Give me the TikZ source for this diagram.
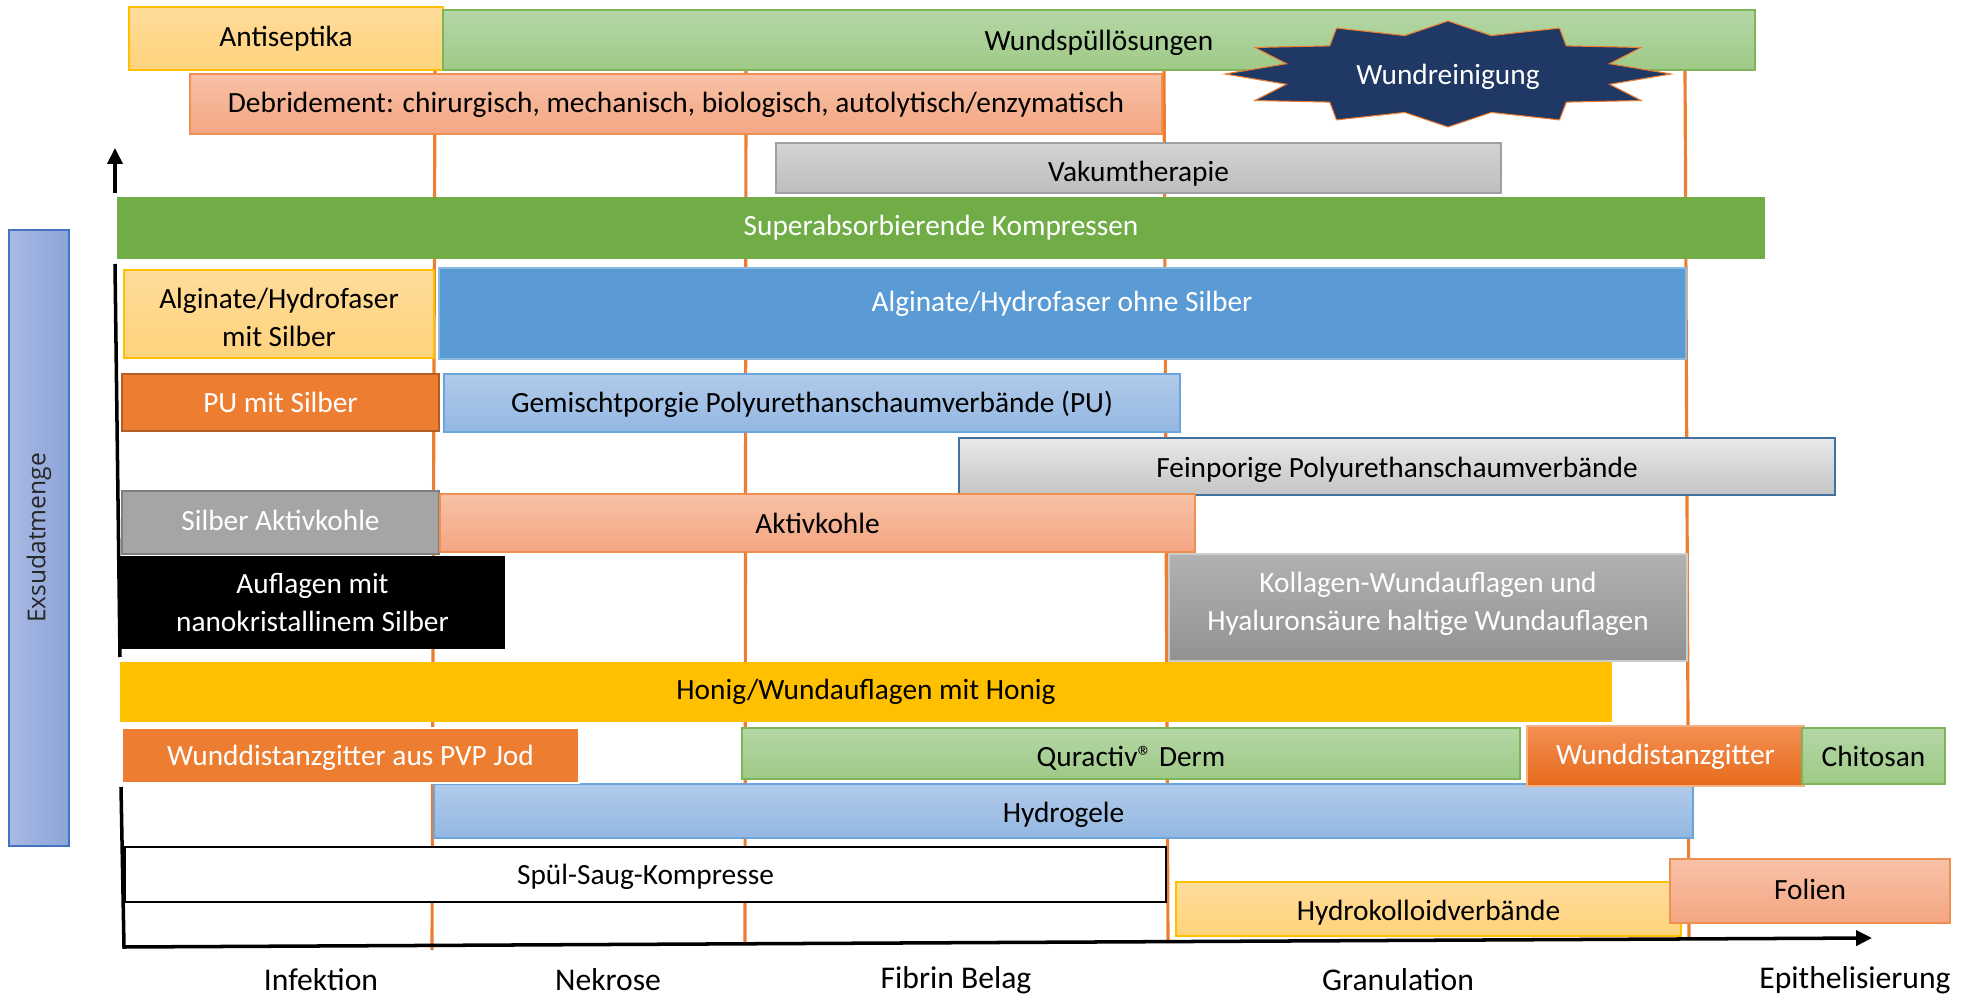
\documentclass[tikz,border=0pt]{standalone}
\usepackage{fontspec}
\setmainfont{Carlito}
\newfontfamily\seitenfont{Open Sans}
\usetikzlibrary{arrows.meta}

\definecolor{goldgelb}{HTML}{FFC000}
\definecolor{orangerot}{HTML}{ED7D31}
\definecolor{gruen}{HTML}{70AD47}
\definecolor{blau}{HTML}{5B9BD5}
\definecolor{nachtblau}{HTML}{203864}
\definecolor{orangeoben}{HTML}{FFDC9A}
\definecolor{orangeunten}{HTML}{FFD37C}
\definecolor{gruenoben}{HTML}{B5D6A6}
\definecolor{gruenunten}{HTML}{9ECA86}
\definecolor{lachsoben}{HTML}{F8C1A6}
\definecolor{lachsunten}{HTML}{F4A683}
\definecolor{grauoben}{HTML}{D4D4D4}
\definecolor{grauunten}{HTML}{BDBDBD}
\definecolor{blauoben}{HTML}{B1CBEA}
\definecolor{blauunten}{HTML}{93B7E2}
\definecolor{feinrand}{HTML}{41719C}
\definecolor{feinoben}{HTML}{E9E9E9}
\definecolor{feinunten}{HTML}{C4C4C4}
\definecolor{silber}{HTML}{A5A5A5}
\definecolor{silberrand}{HTML}{7F7F7F}
\definecolor{kollagenoben}{HTML}{B1B1B1}
\definecolor{kollagenunten}{HTML}{929292}
\definecolor{gitteroben}{HTML}{F38F52}
\definecolor{gitterunten}{HTML}{E76B1D}
\definecolor{exsudlinks}{HTML}{A9B9E3}
\definecolor{exsudrechts}{HTML}{8CA4D7}
\definecolor{exsudrand}{HTML}{4472C4}

\begin{document}
\begin{tikzpicture}[x=0.02cm, y=-0.02cm, font=\fontsize{16.7}{22}\selectfont,
    balken/.style={inner sep=0pt, line width=0.8pt, align=center},
    hellorange/.style={balken, draw=goldgelb, top color=orangeoben, bottom color=orangeunten},
    hellgruen/.style={balken, draw=gruen!90, top color=gruenoben, bottom color=gruenunten},
    lachs/.style={balken, draw=orangerot!85, top color=lachsoben, bottom color=lachsunten},
    grau/.style={balken, draw=gray!75, top color=grauoben, bottom color=grauunten},
    hellblau/.style={balken, draw=blau!90, top color=blauoben, bottom color=blauunten},
    vollgruen/.style={balken, fill=gruen, text=white},
    vollblau/.style={balken, fill=blau, draw=blau!70, text=white},
    puorange/.style={balken, fill=orangerot, draw=orangerot!75!black, line width=1.2pt, text=white},
    feinporig/.style={balken, draw=feinrand, line width=1.2pt, top color=feinoben, bottom color=feinunten},
    silbergrau/.style={balken, fill=silber, draw=silberrand, line width=1.2pt, text=white},
    schwarzbox/.style={balken, fill=black, text=white},
    kollagen/.style={balken, draw=gray!40, top color=kollagenoben, bottom color=kollagenunten, text=white},
    honig/.style={balken, fill=goldgelb},
    pvp/.style={balken, fill=orangerot, draw=white, text=white},
    gitter/.style={balken, draw=orangerot!60, top color=gitteroben, bottom color=gitterunten, text=white},
    spuelsaug/.style={balken, fill=white, draw=black, line width=1.6pt},
    phase/.style={orangerot, line width=1.8pt},
    achse/.style={black, line width=2pt},
    spitze/.style={-{Triangle[length=9pt, width=8.5pt]}},
    stern/.style={fill=nachtblau, draw=orangerot, line width=0.6pt},
    phasenname/.style={font=\fontsize{18}{22}\selectfont}]

\useasboundingbox (0,0) rectangle (1975,996);

% Phasengrenzen
\foreach \xo/\xu/\yu in {435/432/950, 746/745/945, 1164/1168/943, 1685/1689/938}
  \draw[phase] (\xo,70) -- (\xu,\yu);

% Achsen
\coordinate (ypfeil) at (115,148);
\coordinate (ystart) at (115,193);
\coordinate (yoben) at (115,264);
\coordinate (yunten) at (120,657);
\coordinate (ymitte) at (121,787);
\coordinate (ursprung) at (124,947);
\coordinate (xpfeil) at (1872,938);
\draw[achse, spitze] (ystart) -- (ypfeil);
\draw[achse] (yoben) -- (yunten);
\draw[achse, spitze] (ymitte) -- (ursprung) -- (xpfeil);

\path[balken, left color=exsudlinks, right color=exsudrechts, draw=exsudrand] (9,230) rectangle (69,846)
  node[midway, rotate=90, font=\seitenfont\fontsize{14}{16}\selectfont, text=black!85] (exsudat) {Exsudatmenge};

\path[hellorange] (129,7) rectangle (443,70) node[midway] (antiseptika) {Antiseptika};
\path[hellgruen] (443,10) rectangle (1755,70) node[midway, yshift=-1.4pt] (spuelloesung) {Wundspüllösungen};
\path[lachs] (190,74) rectangle (1162,134) node[midway, yshift=-0.7pt] (debridement) {Debridement: chirurgisch, mechanisch, biologisch, autolytisch/enzymatisch};

\draw[stern, shift={(1448,74)}] (0:223 and 53)
  \foreach \i [evaluate=\i as \fak using {mod(\i,2)==0 ? 1 : 0.75}] in {1,...,23} { -- ({\i*15}:{223*\fak} and {53*\fak}) } -- cycle;
\node[text=white] (wundreinigung) at (1448,77) {Wundreinigung};

\path[grau] (776,143) rectangle (1501,193) node[midway, yshift=-3.2pt] (vakuum) {Vakumtherapie};
\path[vollgruen] (117,197) rectangle (1765,259) node[midway] (superabs) {Superabsorbierende Kompressen};
\path[hellorange] (124,270) rectangle (434,358) node[midway, yshift=-2pt] (algmit) {Alginate/Hydrofaser\\mit Silber};
\path[vollblau] (439,268) rectangle (1686,359) node (algohne) at (1062,304) {Alginate/Hydrofaser ohne Silber};
\path[puorange] (122,374) rectangle (439,431) node[midway] (pumit) {PU mit Silber};
\path[hellblau] (444,374) rectangle (1180,432) node[midway, yshift=-0.7pt] (gemischt) {Gemischtporgie Polyurethanschaumverbände (PU)};
\path[feinporig] (959,438) rectangle (1835,495) node[midway, yshift=-2pt] (feinporig) {Feinporige Polyurethanschaumverbände};
\path[silbergrau] (122,491) rectangle (439,554) node[midway, yshift=1pt] (silberkohle) {Silber Aktivkohle};
\path[lachs] (440,494) rectangle (1195,552) node[midway] (aktivkohle) {Aktivkohle};
\path[schwarzbox] (120,556) rectangle (505,649) node[midway] (nanosilber) {Auflagen mit\\nanokristallinem Silber};
\path[kollagen] (1169,554) rectangle (1687,661) node[midway, yshift=2pt] (kollagen) {Kollagen-Wundauflagen und\\Hyaluronsäure haltige Wundauflagen};
\path[honig] (120,662) rectangle (1612,722) node[midway] (honig) {Honig/Wundauflagen mit Honig};
\path[hellblau] (434,784) rectangle (1693,838) node[midway, yshift=-2pt] (hydrogele) {Hydrogele};
\path[pvp] (122,728) rectangle (579,783) node[midway, yshift=-1.2pt] (pvpjod) {Wunddistanzgitter aus PVP Jod};
\path[hellgruen] (742,728) rectangle (1520,779) node[midway, yshift=-2.8pt] (quractiv) {Quractiv® Derm};
\path[gitter] (1527,726) rectangle (1804,786) node[midway, yshift=-0.7pt] (gitter) {Wunddistanzgitter};
\path[hellgruen] (1802,728) rectangle (1945,784) node[midway] (chitosan) {Chitosan};
\path[spuelsaug] (125,847) rectangle (1166,902) node[midway, yshift=-1.4pt] (spuelsaug) {Spül-Saug-Kompresse};
\path[hellorange] (1176,882) rectangle (1681,936) node[midway, yshift=-2pt] (hydrokolloid) {Hydrokolloidverbände};
\path[lachs] (1670,859) rectangle (1950,923) node[midway, yshift=1pt] (folien) {Folien};

% Wundphasen
\node[phasenname] (infektion) at (321,980) {Infektion};
\node[phasenname] (nekrose) at (608,980) {Nekrose};
\node[phasenname] (fibrin) at (956,980) {Fibrin Belag};
\node[phasenname] (granulation) at (1398,980) {Granulation};
\node[phasenname] (epithel) at (1855,980) {Epithelisierung};
\end{tikzpicture}
\end{document}
